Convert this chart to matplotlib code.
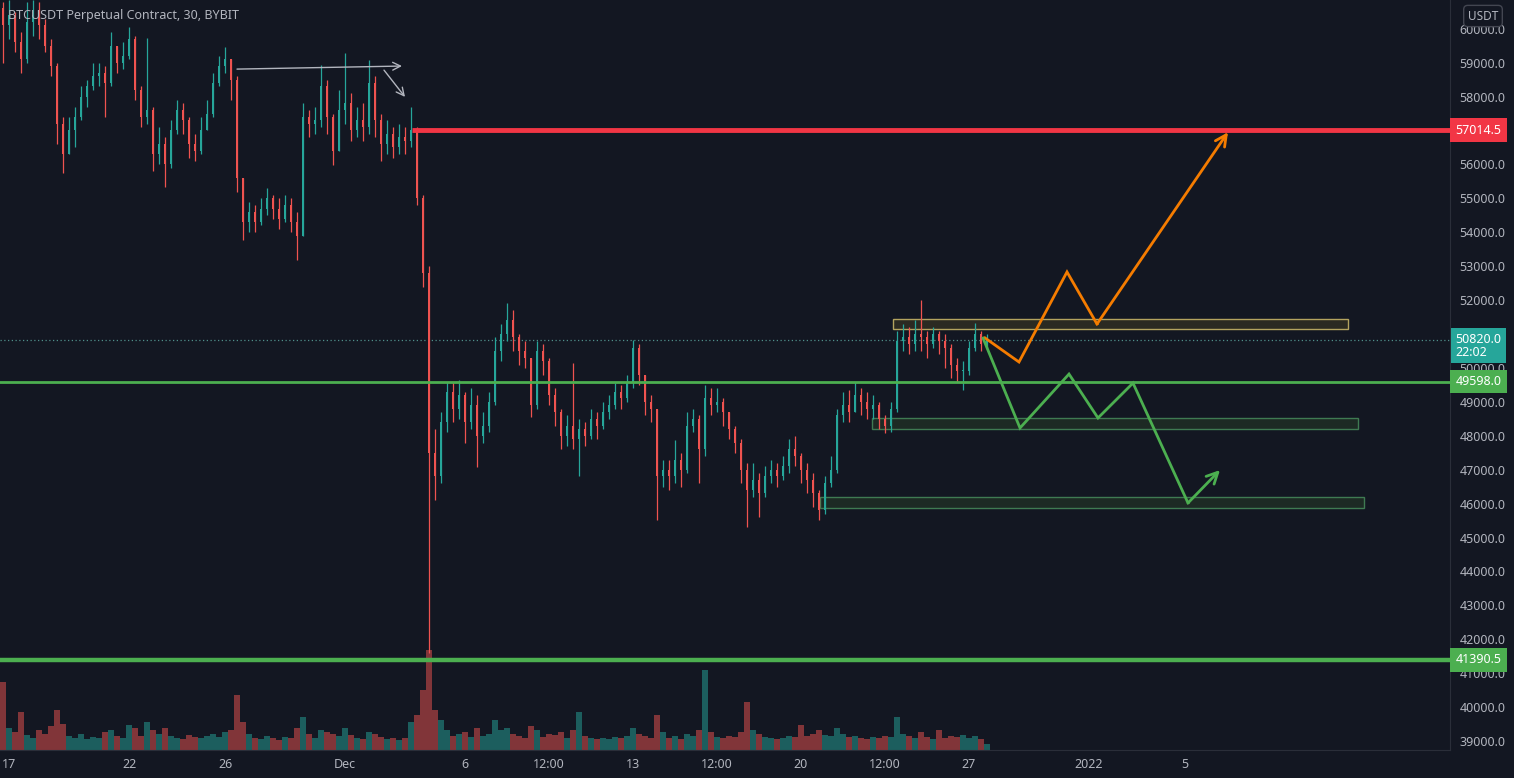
import numpy as np
import pandas as pd
import matplotlib
matplotlib.use("Agg")
import matplotlib.pyplot as plt
import matplotlib.dates as mdates
from matplotlib.patches import Rectangle

# ---- data (6h bars) ----
bar_start = "2021-11-16 18:00"
first_open = 60600
closes = [60100, 60400, 59600, 59100, 60200, 60400, 60100, 59500, 58900, 57200,
          56300, 57000, 57400, 58000, 58300, 58600, 58700, 58400, 59500, 59000,
          59200, 59700, 58200, 57400, 57600, 56300, 56600, 56000, 57000, 57600,
          57300, 56600, 56400, 57000, 57500, 58400, 58900, 59100, 58500, 55600,
          54300, 54600, 54300, 54700, 55000, 54700, 54400, 54800, 54300, 53900,
          57400, 57200, 57300, 58300, 57400, 56400, 57600, 57800, 57000, 57300,
          57100, 58400, 57300, 56600, 56900, 56500, 56800, 56700, 57000, 55000,
          52800, 47500, 46800, 48400, 49300, 48800, 49200, 48400, 48900, 48000,
          48300, 49000, 50500, 51000, 51400, 50900, 50500, 50300, 48900, 50500,
          50200, 49200, 48700, 48000, 48300, 47900, 48200, 48000, 48500, 48300,
          48700, 48900, 49300, 49100, 49600, 50600, 49800, 49000, 48800, 46800,
          47000, 46800, 47300, 47000, 48300, 48500, 47600, 49100, 48900, 49000,
          48700, 48200, 47800, 47000, 46400, 46700, 46300, 46800, 47000, 46800,
          47100, 47600, 47400, 47000, 46700, 46300, 45800, 46600, 47000, 48600,
          48900, 48700, 49200, 49000, 48800, 48900, 48500, 48300, 48800, 50800,
          50900, 50700, 51000, 50900, 50700, 51000, 50800, 50600, 50100, 49900,
          49900, 50600, 51000, 50700, 50820]
highs = [60800, 60850, 60500, 59900, 60800, 60850, 60800, 60300, 59700, 59000,
         57400, 57400, 57700, 58300, 58500, 59000, 59000, 58900, 59900, 59500,
         59600, 60050, 59800, 58300, 59730, 57700, 57100, 56800, 57300, 57900,
         57800, 57400, 56900, 57400, 57900, 58700, 59200, 59460, 59100, 58600,
         55600, 54900, 54800, 55000, 55300, 55100, 55000, 55100, 55000, 54600,
         57800, 57600, 57700, 58930, 58500, 57500, 58200, 59280, 58100, 57700,
         57800, 59080, 58600, 57500, 57300, 57100, 57200, 57100, 57700, 57100,
         55100, 53000, 48200, 48700, 49600, 49600, 49650, 49300, 49400, 49200,
         48700, 49300, 50900, 51300, 51900, 51700, 51000, 50800, 50300, 50800,
         50700, 50300, 49400, 48800, 48600, 50140, 48500, 48400, 48800, 48700,
         49000, 49200, 49550, 49500, 49800, 50820, 50700, 49800, 49200, 48800,
         47300, 47300, 47875, 47500, 48700, 48800, 48600, 49500, 49400, 49400,
         49100, 48700, 48300, 47900, 47200, 47200, 46900, 47100, 47300, 47200,
         47400, 47900, 48000, 47500, 47200, 46900, 46400, 46800, 47400, 48800,
         49300, 49350, 49585, 49400, 49300, 49200, 49000, 48600, 49000, 51100,
         51300, 51200, 51400, 52000, 51100, 51200, 51100, 51000, 50700, 50300,
         50200, 50800, 51325, 51100, 51000]
lows = [59000, 59700, 59300, 58700, 59000, 59800, 59700, 59300, 58600, 56600,
        55750, 56300, 56500, 57300, 57700, 58200, 58300, 57400, 58300, 58700,
        58800, 59100, 57900, 57100, 57200, 55800, 56000, 55340, 55900, 56900,
        56900, 56200, 56100, 56300, 57000, 57400, 58300, 58700, 57900, 55200,
        53780, 54000, 54000, 54200, 54500, 54400, 54100, 54300, 54000, 53180,
        53900, 56800, 56900, 57100, 56900, 55980, 56400, 57200, 56700, 56800,
        56700, 56900, 56800, 56100, 56300, 56200, 56300, 56300, 56500, 54800,
        52400, 41600, 46100, 46600, 48100, 48400, 48500, 47790, 48200, 47080,
        47800, 48100, 48900, 50200, 50800, 50500, 50100, 50000, 48550, 48800,
        49800, 48900, 48300, 47600, 47700, 47600, 46800, 47700, 47900, 47900,
        48200, 48500, 48800, 48800, 49000, 49400, 49500, 48600, 48400, 45520,
        46500, 46400, 46600, 46500, 46900, 48100, 46610, 47400, 48600, 48700,
        48300, 47900, 47500, 46600, 45310, 46200, 45600, 46200, 46600, 46500,
        46700, 46900, 47100, 46600, 46300, 45900, 45520, 45700, 46500, 46900,
        48400, 48400, 48700, 48600, 48500, 48500, 48200, 48080, 48100, 48700,
        50500, 50400, 50500, 50500, 50300, 50600, 50400, 50000, 49700, 49600,
        49350, 49800, 50500, 50500, 50600]
volumes = [68, 22, 18, 38, 15, 12, 20, 16, 24, 40,
           26, 14, 12, 16, 11, 13, 12, 18, 20, 14,
           12, 25, 22, 14, 28, 20, 16, 22, 14, 12,
           11, 15, 13, 12, 14, 16, 13, 18, 20, 55,
           28, 16, 12, 11, 14, 12, 10, 13, 12, 22,
           33, 16, 12, 20, 18, 16, 14, 22, 15, 12,
           11, 18, 16, 13, 11, 12, 10, 12, 28, 35,
           60, 100, 40, 30, 20, 14, 16, 18, 13, 22,
           14, 16, 30, 20, 22, 16, 14, 12, 24, 20,
           13, 16, 15, 18, 12, 20, 38, 14, 12, 11,
           12, 11, 13, 12, 14, 22, 16, 14, 12, 35,
           18, 12, 14, 11, 16, 14, 20, 80, 18, 13,
           12, 14, 13, 18, 48, 20, 16, 13, 12, 11,
           12, 14, 13, 25, 14, 16, 20, 15, 14, 22,
           16, 13, 14, 12, 11, 13, 12, 14, 13, 33,
           16, 14, 12, 18, 13, 11, 20, 12, 14, 13,
           15, 12, 14, 11, 6]

resistance = 57014.5
resistance_from = "2021-12-03 19:00"
support_mid = 49598.0
support_low = 41390.5
last_price = 50820.0
countdown = "22:02"

# zones: (start, end, low, high)
zone_top = ("2021-12-23 20:00", "2022-01-11 19:00", 51140, 51440)
zone_mid = ("2021-12-22 23:00", "2022-01-12 05:00", 48200, 48525)
zone_low = ("2021-12-20 19:00", "2022-01-12 11:00", 45870, 46200)

# projected paths
bull_times = ["2021-12-27 16:00", "2021-12-29 02:00", "2021-12-31 02:00",
              "2022-01-01 08:00", "2022-01-06 19:00"]
bull_prices = [50885, 50175, 52830, 51295, 56950]
bear_times = ["2021-12-27 14:00", "2021-12-29 03:00", "2021-12-31 04:00",
              "2022-01-01 09:00", "2022-01-02 20:00", "2022-01-05 03:00",
              "2022-01-06 11:00"]
bear_prices = [50880, 48230, 49820, 48525, 49555, 46020, 46990]

# small hand-drawn arrows near the top
arrow1 = (("2021-11-26 12:00", 58810), ("2021-12-03 09:00", 58900))
arrow2 = (("2021-12-02 15:00", 58780), ("2021-12-03 12:00", 57990))

xtick_dates = ["2021-11-17", "2021-11-22", "2021-11-26", "2021-12-01", "2021-12-06",
               "2021-12-09 12:00", "2021-12-13", "2021-12-16 12:00", "2021-12-20",
               "2021-12-23 12:00", "2021-12-27", "2022-01-01", "2022-01-05"]
xtick_labels = ["17", "22", "26", "Dec", "6", "12:00", "13", "12:00", "20",
                "12:00", "27", "2022", "5"]
ytick_values = np.arange(39000, 60001, 1000)

# ---- styling ----
BG = "#131722"
TXT = "#b2b5be"
UP = "#26a69a"
DOWN = "#ef5350"
plt.rcParams["font.family"] = ["Noto Sans", "DejaVu Sans"]

def dn(s):
    return mdates.date2num(pd.Timestamp(s))

times = pd.date_range(bar_start, periods=len(closes), freq="6h")
x = mdates.date2num(times)
c = np.array(closes, dtype=float)
o = np.array([first_open] + closes[:-1], dtype=float)
h = np.array(highs, dtype=float)
l = np.array(lows, dtype=float)
up = c >= o
cols = np.where(up, UP, DOWN)

fig = plt.figure(figsize=(15.14, 7.78), dpi=100, facecolor=BG)
ax = fig.add_axes([0, 28 / 778, 1450 / 1514, 750 / 778])
ax.set_facecolor(BG)

# volume pane at the bottom
vax = ax.inset_axes([0, 0, 1, 0.25], sharex=ax)
vax.set_zorder(1)
vax.bar(x, volumes, width=0.22, color=np.where(up, "#26a69a80", "#ef535080"))
vax.set_ylim(0, 187)
vax.axis("off")

# candles
ax.vlines(x, l, h, colors=cols, lw=0.9, zorder=3)
body = np.maximum(np.abs(c - o), 25)
ax.bar(x, body, bottom=np.minimum(o, c), width=0.12, color=cols, zorder=3)

# levels
ax.hlines(resistance, dn(resistance_from), dn("2022-02-01"), color="#f23645", lw=3.5, zorder=4)
ax.axhline(support_mid, color="#4caf50", lw=2, zorder=4)
ax.axhline(support_low, color="#4caf50", lw=3.2, zorder=4)
ax.axhline(last_price, color="#4f8f8a", lw=0.9, ls=(0, (1, 2)), zorder=2)

# zones
for z, ec, fc in [(zone_top, "#b3a35f", "#2b2a22"),
                  (zone_mid, "#3f7a52", "#1d2a24"),
                  (zone_low, "#3f7a52", "#1d2a24")]:
    x0, x1 = dn(z[0]), dn(z[1])
    ax.add_patch(Rectangle((x0, z[2]), x1 - x0, z[3] - z[2], fc=fc, ec=ec, lw=1, zorder=2.5))

# projections
for tt, pp, colr in [(bull_times, bull_prices, "#f57c00"), (bear_times, bear_prices, "#4caf50")]:
    px = [dn(t) for t in tt]
    ax.plot(px[:-1], pp[:-1], color=colr, lw=2, zorder=5, solid_joinstyle="miter")
    ax.annotate("", xy=(px[-1], pp[-1]), xytext=(px[-2], pp[-2]),
                arrowprops=dict(arrowstyle="->", color=colr, lw=2, shrinkA=0, shrinkB=0,
                                mutation_scale=20), zorder=5)

for a in (arrow1, arrow2):
    ax.annotate("", xy=(dn(a[1][0]), a[1][1]), xytext=(dn(a[0][0]), a[0][1]),
                arrowprops=dict(arrowstyle="->", color=TXT, lw=1, shrinkA=0, shrinkB=0,
                                mutation_scale=14), zorder=5)

ax.set_xlim(dn("2021-11-16 15:00"), dn("2022-01-16 01:00"))
ax.set_ylim(38737, 60847)

# axes / ticks; scale labels hidden under a price tag are left blank
tags = [resistance, last_price]
ax.yaxis.tick_right()
ax.set_yticks(ytick_values)
ax.set_yticklabels(["" if min(abs(v - t) for t in tags) < 300 else f"{v:.1f}"
                    for v in ytick_values])
ax.set_xticks([dn(d) for d in xtick_dates])
ax.set_xticklabels(xtick_labels)
ax.tick_params(axis="both", length=0, colors=TXT, labelsize=9)
ax.tick_params(axis="y", pad=7)
ax.tick_params(axis="x", pad=6)
for lab in ax.get_xticklabels():
    if lab.get_text() == "2022":
        lab.set_fontweight("bold")
for s in ["top", "left"]:
    ax.spines[s].set_visible(False)
for s in ["right", "bottom"]:
    ax.spines[s].set_color("#2a2e39")

# price labels on the scale
def price_tag(val, text, colr):
    ax.annotate(text, xy=(1, val), xycoords=("axes fraction", "data"),
                xytext=(4, 0), textcoords="offset points", ha="left", va="center",
                color="white", fontsize=9, zorder=10, annotation_clip=False,
                linespacing=1.0,
                bbox=dict(boxstyle="square,pad=0.42", fc=colr, ec="none"))

price_tag(resistance, f"{resistance:.1f}", "#f23645")
price_tag(support_mid, f"{support_mid:.1f}", "#4caf50")
price_tag(support_low, f"{support_low:.1f}", "#4caf50")
ax.annotate(f"{last_price:.1f}\n{countdown}", xy=(1, last_price - 160),
            xycoords=("axes fraction", "data"), xytext=(4, 0), textcoords="offset points",
            ha="left", va="center", color="white", fontsize=9, zorder=11,
            annotation_clip=False, linespacing=1.0,
            bbox=dict(boxstyle="square,pad=0.38", fc="#26a69a", ec="none"))

fig.text(8 / 1514, 1 - 16 / 778, "BTCUSDT Perpetual Contract, 30, BYBIT",
         color=TXT, fontsize=9, va="center", ha="left")
fig.text(1483 / 1514, 1 - 16 / 778, "USDT", color=TXT, fontsize=8.5, va="center", ha="center",
         bbox=dict(boxstyle="round,pad=0.35", fc=BG, ec="#434651", lw=1))

fig.savefig("out.png", dpi=100, facecolor=BG)
